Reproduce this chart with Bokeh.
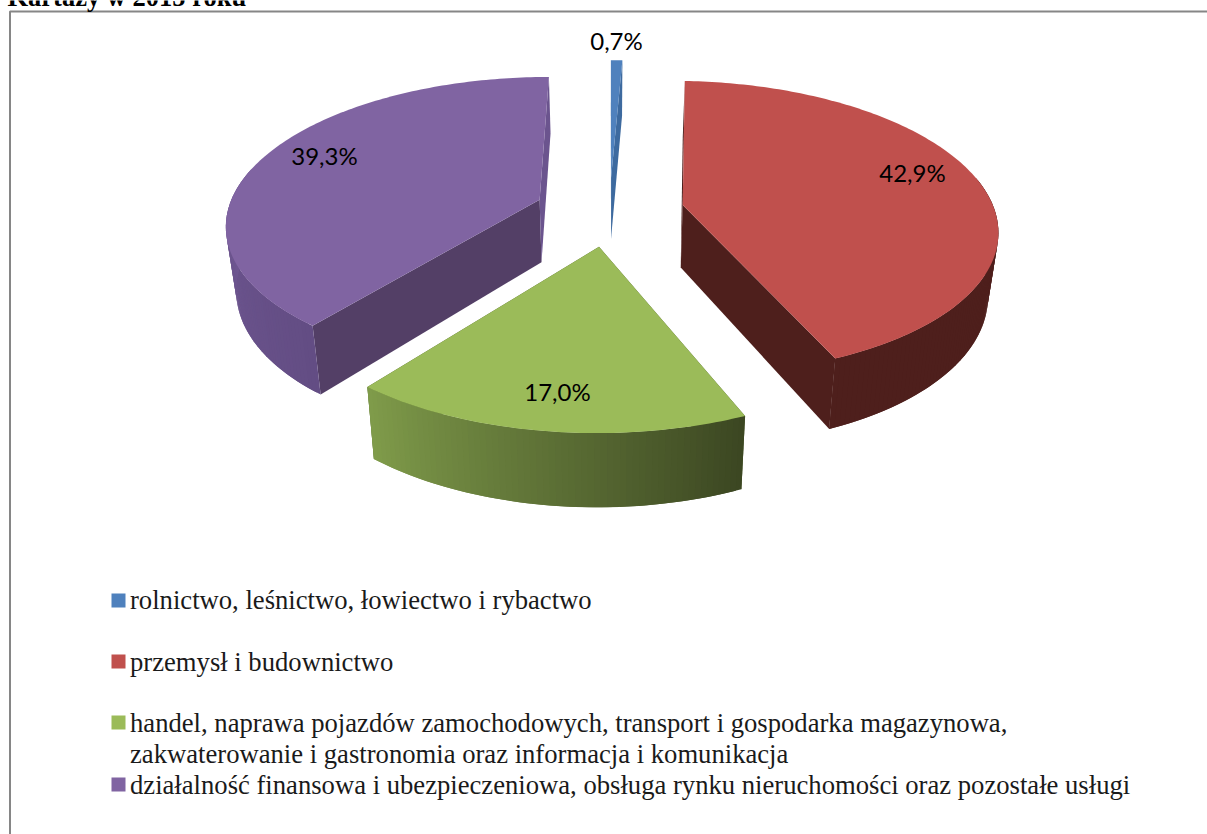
import numpy as np
from bokeh.plotting import figure
from bokeh.models import Range1d
from bokeh.embed import file_html
from bokeh.resources import INLINE
from bokeh.core.properties import value

# ---- data -------------------------------------------------------------
title = "Kartaży w 2015 roku"
shares = [0.7, 42.9, 17.0, 39.3]
share_labels = ["0,7%", "42,9%", "17,0%", "39,3%"]
legend_lines = [
    ["rolnictwo, leśnictwo, łowiectwo i rybactwo"],
    ["przemysł i budownictwo"],
    ["handel, naprawa pojazdów zamochodowych, transport i gospodarka magazynowa,",
     "zakwaterowanie i gastronomia oraz informacja i komunikacja"],
    ["działalność finansowa i ubezpieczeniowa, obsługa rynku nieruchomości oraz pozostałe usługi"],
]

# ---- style / layout ----------------------------------------------------
W, H = 1207, 834
TOP = ["#4F81BD", "#C0504D", "#9BBB59", "#8064A2"]
START_CUT = ["#3D6A9F", "#4E1F1C", "#4A5A2A", "#533F66"]
END_CUT = ["#3D6A9F", "#4E1F1C", "#4A5A2A", "#6B548E"]
OUTER = [("#3D6A9F", "#3D6A9F"), ("#4E1F1C", "#4E1F1C"),
         ("#3C4722", "#7F9B4A"), ("#634D84", "#8367A8")]
LABEL_XY = [(616, 39.5), (912, 171.5), (557, 390.5), (324, 154.5)]
SWATCH_Y = [600, 661, 722, 784]
TEXT_Y = [[599], [661], [722, 753], [784]]

X0, Y0, A, B, K = 609.0, 210.5, 312.0, 145.0, 0.155
EXPLODE, DEPTH, SHRINK = 0.24, 63.0, 0.973


def project(u, v, bottom=False):
    s = 1 / (1 - K * v)
    x = X0 + A * u * s
    y = Y0 + B * v * s
    if bottom:
        x = X0 + SHRINK * (x - X0)
        y = y + DEPTH * (1 + 0.75 * (s - 1))
    return x, y


def mix(c1, c2, t):
    a = [int(c1[i:i + 2], 16) for i in (1, 3, 5)]
    b = [int(c2[i:i + 2], 16) for i in (1, 3, 5)]
    return "#%02x%02x%02x" % tuple(round(p + (q - p) * t) for p, q in zip(a, b))


p = figure(width=W, height=H, x_range=Range1d(0, W), y_range=Range1d(H, 0),
           output_backend="svg", toolbar_location=None, min_border=0,
           margin=(0, 0, 0, 0), outline_line_color=None,
           background_fill_color="white", border_fill_color="white")
p.xaxis.visible = False
p.yaxis.visible = False
p.grid.visible = False

# frame
p.line([9.5, 9.5, W], [H, 11, 11], line_color="#868686", line_width=2)
p.text([7], [-3.5], text=[title], text_font=value("Liberation Serif"),
       text_font_style="bold", text_font_size="26.5px", text_color="black",
       text_baseline="middle", text_align="left")

# slices
total = sum(shares)
edges = np.concatenate([[0], np.cumsum(shares)]) / total * 2 * np.pi
for idx in [0, 3, 1, 2]:
    a0, a1 = edges[idx], edges[idx + 1]
    mid = (a0 + a1) / 2
    ou, ov = EXPLODE * np.sin(mid), -EXPLODE * np.cos(mid)
    th = np.linspace(a0, a1, max(3, int((a1 - a0) * 60)))
    u = ou + np.sin(th)
    v = ov - np.cos(th)
    xt, yt = project(u, v)
    xb, yb = project(u, v, True)
    axt, ayt = project(ou, ov)
    axb, ayb = project(ou, ov, True)

    # the two cut walls
    p.patch([axt, xt[0], xb[0], axb], [ayt, yt[0], yb[0], ayb],
            fill_color=START_CUT[idx], line_color=None)
    p.patch([axt, xt[-1], xb[-1], axb], [ayt, yt[-1], yb[-1], ayb],
            fill_color=END_CUT[idx], line_color=None)

    # outer wall, front-facing part only, shaded along the arc
    xs, ys, cs = [], [], []
    n = len(th)
    for i in range(n - 1):
        if -np.cos(th[i]) < -0.2:
            continue
        j = min(i + 2, n - 1)
        xs.append([xt[i], xt[j], xb[j], xb[i]])
        ys.append([yt[i], yt[j], yb[j], yb[i]])
        cs.append(mix(*OUTER[idx], i / max(1, n - 2)))
    if xs:
        p.patches(xs, ys, fill_color=cs, line_color=None)

    # top face
    p.patch(np.r_[axt, xt], np.r_[ayt, yt], fill_color=TOP[idx], line_color=None)

# data labels
p.text([c[0] for c in LABEL_XY], [c[1] for c in LABEL_XY], text=share_labels,
       text_font=value("Lato"), text_font_size="24px", text_color="black",
       text_align="center", text_baseline="middle")

# legend
for i, lines in enumerate(legend_lines):
    p.rect([118], [SWATCH_Y[i]], width=14, height=14, fill_color=TOP[i], line_color=None)
    p.text([129.5] * len(lines), TEXT_Y[i], text=lines,
           text_font=value("Liberation Serif"), text_font_size="26.65px",
           text_color="#1a1a1a", text_align="left", text_baseline="middle")

open("out.html", "w").write(file_html(p, INLINE))
